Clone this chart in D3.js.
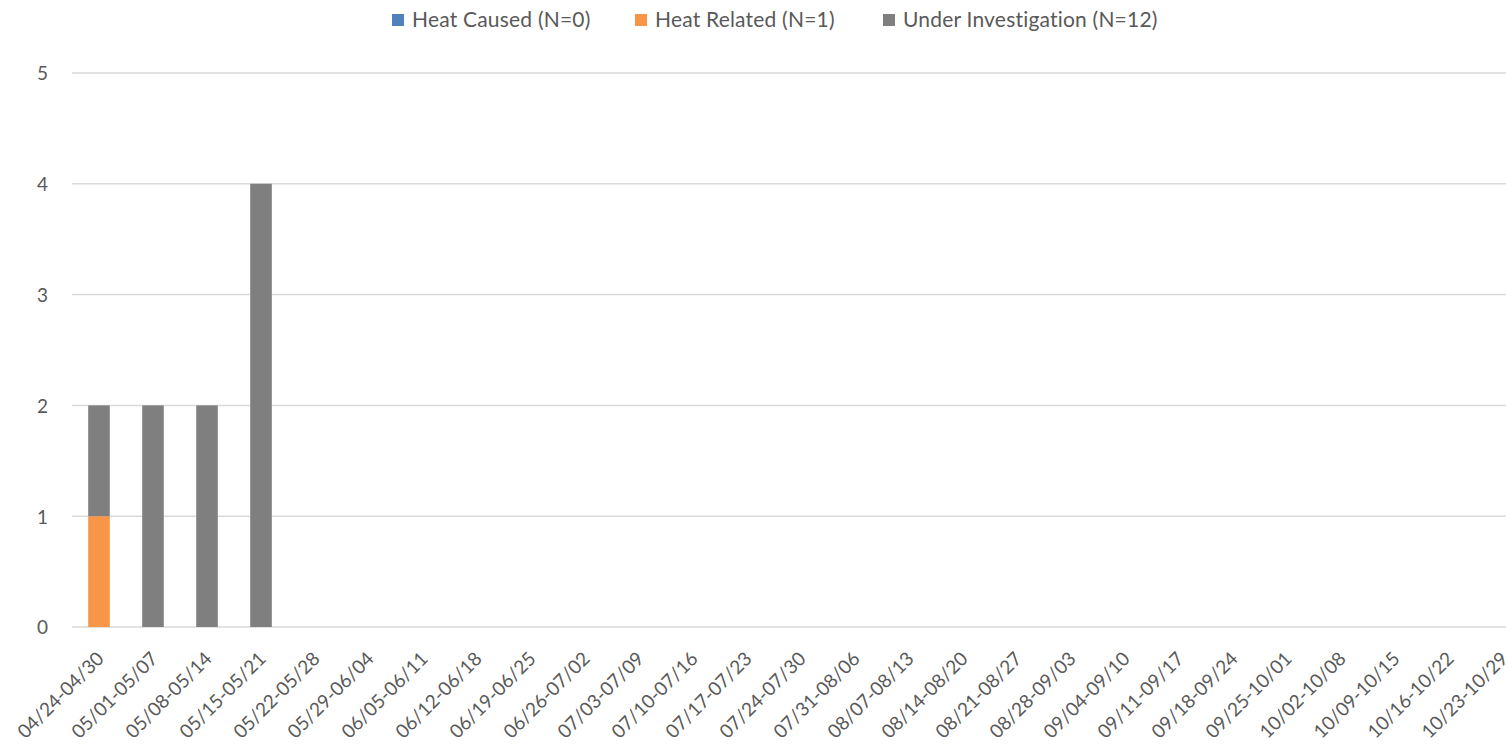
<!DOCTYPE html>
<html>
<head>
<meta charset="utf-8">
<script src="https://cdn.jsdelivr.net/npm/d3@7"></script>
<style>
  html, body { margin: 0; padding: 0; background: #fff; overflow: hidden; }
  #chart { width: 1506px; height: 748px; }
  text { font-family: Lato, "Open Sans", sans-serif; fill: #595959; }
</style>
</head>
<body>
<div id="chart"></div>
<script>
const weeks = ["04/24-04/30", "05/01-05/07", "05/08-05/14", "05/15-05/21", "05/22-05/28", "05/29-06/04",
    "06/05-06/11", "06/12-06/18", "06/19-06/25", "06/26-07/02", "07/03-07/09", "07/10-07/16", "07/17-07/23",
    "07/24-07/30", "07/31-08/06", "08/07-08/13", "08/14-08/20", "08/21-08/27", "08/28-09/03", "09/04-09/10",
    "09/11-09/17", "09/18-09/24", "09/25-10/01", "10/02-10/08", "10/09-10/15", "10/16-10/22", "10/23-10/29"];
const heatCaused = [0, 0, 0, 0, 0, 0, 0, 0, 0, 0, 0, 0, 0, 0, 0, 0, 0, 0, 0, 0, 0, 0, 0, 0, 0, 0, 0];
const heatRelated = [1, 0, 0, 0, 0, 0, 0, 0, 0, 0, 0, 0, 0, 0, 0, 0, 0, 0, 0, 0, 0, 0, 0, 0, 0, 0, 0];
const underInvestigation = [1, 2, 2, 4, 0, 0, 0, 0, 0, 0, 0, 0, 0, 0, 0, 0, 0, 0, 0, 0, 0, 0, 0, 0, 0, 0, 0];
const seriesNames = ["Heat Caused (N=0)", "Heat Related (N=1)", "Under Investigation (N=12)"];
const seriesColors = ["#4F81BD", "#F79646", "#7F7F7F"];
const yTicks = [0, 1, 2, 3, 4, 5];

const W = 1506, H = 748;
const M = {left: 72, top: 73, bottom: 627};

const svg = d3.select("#chart").append("svg").attr("width", W).attr("height", H);

// table for the stack: one row per week
const rows = weeks.map((w, i) => ({week: w, s0: heatCaused[i], s1: heatRelated[i], s2: underInvestigation[i]}));
const stacked = d3.stack().keys(["s0", "s1", "s2"])(rows);

const x = d3.scaleBand().domain(weeks).range([M.left, M.left + weeks.length * 54]).paddingInner(0.6).paddingOuter(0.3);
const y = d3.scaleLinear().domain([0, 5]).range([M.bottom, M.top]);

// gridlines
svg.append("g").selectAll("line").data(yTicks).enter().append("line")
    .attr("x1", M.left).attr("x2", W).attr("y1", d => y(d)).attr("y2", d => y(d))
    .attr("stroke", "#d9d9d9").attr("stroke-width", 1.5);

// y axis labels
const yAxis = svg.append("g").attr("transform", `translate(${M.left - 24},0)`)
    .call(d3.axisLeft(y).tickValues(yTicks).tickFormat(d3.format("d")).tickSize(0).tickPadding(0));
yAxis.select(".domain").remove();
yAxis.selectAll("text").style("font-size", "19px").attr("dy", "0.36em");

// bars
svg.append("g").selectAll("g").data(stacked).enter().append("g")
    .attr("fill", (d, i) => seriesColors[i])
    .selectAll("rect").data(d => d.filter(p => p[1] > p[0])).enter().append("rect")
    .attr("x", d => x(d.data.week)).attr("width", x.bandwidth())
    .attr("y", d => y(d[1])).attr("height", d => y(d[0]) - y(d[1]));

// x axis labels, rotated
const xAxis = svg.append("g").attr("transform", `translate(0,${M.bottom})`)
    .call(d3.axisBottom(x).tickSize(0).tickPadding(0));
xAxis.select(".domain").remove();
xAxis.selectAll("text").style("font-size", "19px")
    .attr("text-anchor", "end").attr("dy", null).attr("y", 0)
    .attr("transform", "translate(6,33) rotate(-45)");

// legend
const legendX = [412, 655, 903];
const legend = svg.append("g").selectAll("g").data(seriesNames).enter().append("g")
    .attr("transform", (d, i) => `translate(${legendX[i]},0)`);
legend.append("rect").attr("x", -20).attr("y", 14).attr("width", 12).attr("height", 12).attr("fill", (d, i) => seriesColors[i]);
legend.append("text").attr("y", 27).style("font-size", "21px").style("letter-spacing", "0.2px").text(d => d);
</script>
</body>
</html>
